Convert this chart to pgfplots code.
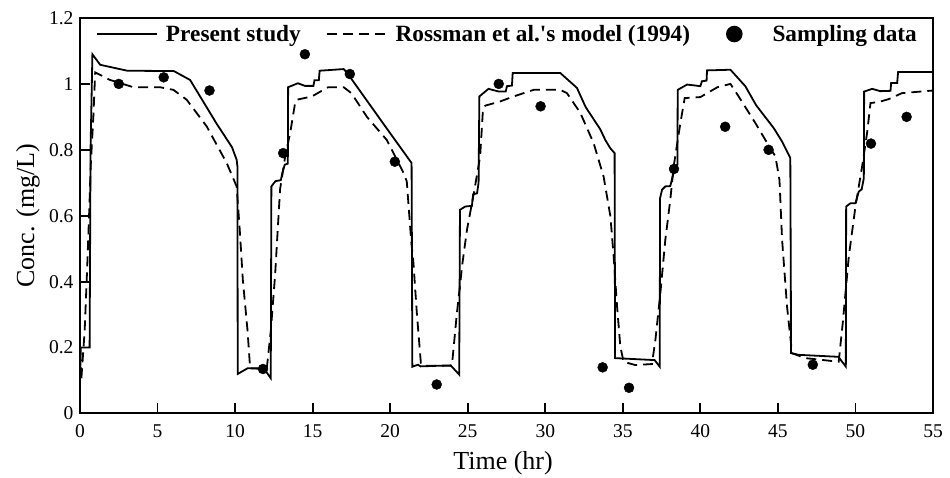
\documentclass[border=0pt]{standalone}
\usepackage{fontspec}
\setmainfont{Liberation Serif}
\usepackage{pgfplots}
\usepackage{pgfplotstable}
\pgfplotsset{compat=1.18}

% Present study (solid line)
\pgfplotstableread{
t c
0 0.10
0.05 0.20
0.62 0.20
0.68 0.80
0.80 1.09
1.3 1.058
3.05 1.040
6.05 1.039
7.1 1.012
8.8 0.880
9.8 0.808
10.1 0.77
10.15 0.75
10.17 0.12
10.8 0.137
11.85 0.137
12.3 0.107
12.34 0.689
12.6 0.705
12.95 0.708
13.05 0.73
13.2 0.755
13.4 0.758
13.42 0.99
14.05 1.002
14.5 0.994
15.05 0.994
15.12 1.011
15.4 1.011
15.45 1.040
17.0 1.045
17.2 1.035
19.7 0.870
21.38 0.76
21.43 0.142
21.8 0.148
21.95 0.143
23.9 0.146
24.45 0.118
24.5 0.618
24.84 0.628
25.27 0.630
25.35 0.665
25.6 0.668
25.7 0.70
25.75 0.962
26.34 0.985
26.99 0.977
27.45 0.977
27.53 0.993
27.85 0.995
27.9 1.033
30.97 1.033
32.04 0.988
32.6 0.930
33.55 0.862
33.87 0.83
34.19 0.805
34.47 0.79
34.5 0.168
37.05 0.162
37.38 0.142
37.4 0.653
37.53 0.679
37.74 0.689
38.06 0.690
38.21 0.719
38.39 0.75
38.52 0.755
38.54 0.982
39.14 0.998
39.7 0.995
40.0 0.993
40.1 1.008
40.4 1.010
40.43 1.041
41.94 1.043
42.9 0.993
43.6 0.935
44.73 0.866
45.27 0.825
45.8 0.775
45.85 0.183
46.34 0.178
48.9 0.172
49.38 0.142
49.4 0.628
49.68 0.638
50.0 0.638
50.21 0.673
50.4 0.68
50.54 0.714
50.56 0.977
51.08 0.985
51.6 0.978
52.26 0.979
52.3 1.003
52.69 1.003
52.75 1.036
55 1.036
}\presentdata

% Rossman et al. (1994) model (dashed line)
\pgfplotstableread{
t c
0 0.19
0.08 0.10
0.3 0.25
0.47 0.45
0.6 0.62
0.69 0.75
0.86 0.90
0.98 1.035
1.94 1.012
3.44 0.990
5.16 0.990
6.02 0.982
6.88 0.952
8.17 0.871
9.46 0.760
10.1 0.689
10.3 0.557
10.5 0.405
10.8 0.253
10.97 0.137
12.04 0.135
12.3 0.25
12.58 0.420
12.9 0.68
13.23 0.78
13.55 0.851
13.87 0.942
13.98 0.952
14.95 0.962
16.0 0.990
17.0 0.990
17.5 0.972
18.5 0.90
19.78 0.83
20.86 0.73
21.07 0.704
21.35 0.527
21.5 0.456
21.72 0.304
21.98 0.152
22.1 0.145
23.98 0.145
24.3 0.304
24.66 0.456
24.95 0.557
25.4 0.67
25.8 0.78
25.98 0.92
26.13 0.934
27.1 0.947
27.96 0.962
29.25 0.982
30.97 0.982
31.4 0.972
32.26 0.912
33.12 0.82
33.76 0.719
34.2 0.598
34.41 0.476
34.63 0.324
34.84 0.203
35.05 0.157
35.8 0.147
36.88 0.150
37.1 0.223
37.42 0.365
37.74 0.527
38.06 0.648
38.28 0.75
38.71 0.881
38.99 0.957
40.0 0.96
41.1 0.990
41.94 1.0
42.4 0.967
43.55 0.881
44.19 0.83
44.84 0.78
45.1 0.709
45.27 0.527
45.59 0.324
45.91 0.183
46.77 0.168
48.92 0.157
49.18 0.274
49.57 0.476
50.0 0.628
50.43 0.75
50.75 0.851
50.97 0.942
51.5 0.945
52.15 0.954
53.0 0.972
55 0.98
}\rossmandata

% Field sampling
\pgfplotstableread{
t c
2.5 1.00
5.4 1.02
8.35 0.98
11.8 0.135
13.1 0.79
14.5 1.09
17.4 1.03
20.3 0.764
23.0 0.088
27.0 1.00
29.7 0.932
33.7 0.140
35.4 0.078
38.3 0.742
41.6 0.870
44.4 0.800
47.25 0.148
51.0 0.819
53.3 0.900
}\samplingdata

\begin{document}
\begin{tikzpicture}
\useasboundingbox (-80pt,-64.5pt) rectangle (870pt,413.5pt);
\begin{axis}[
  scale only axis,
  width=853pt, height=395.5pt,
  xmin=0, xmax=55, ymin=0, ymax=1.2,
  xtick={0,5,...,55},
  ytick={0,0.2,0.4,0.6,0.8,1,1.2},
  tick pos=left,
  tick align=inside,
  major tick length=10pt,
  every tick/.style={black, line width=1.8pt},
  axis line style={line width=2pt},
  /pgf/number format/assume math mode=true,
  tick label style={font=\fontsize{19.5}{22}\selectfont},
  yticklabel style={xshift=-3pt},
  xticklabel style={yshift=-8pt},
  label style={font=\fontsize{26}{30}\selectfont},
  xlabel={Time (hr)},
  ylabel={Conc. (mg/L)},
  xlabel style={at={(axis description cs:0.496,0)}, anchor=base, yshift=-55.8pt},
  ylabel style={at={(axis description cs:-0.0539,0.5)}, anchor=base},
  legend columns=3,
  legend style={
    at={(axis description cs:0,1)}, anchor=north west,
    xshift=13pt, yshift=-3pt,
    draw=none, fill=none,
    font=\fontsize{23.3}{26}\selectfont\bfseries,
    /tikz/every odd column/.style={column sep=6pt},
    /tikz/column 2/.style={column sep=23pt},
    /tikz/column 4/.style={column sep=12pt},
  },
  legend image code/.code={\draw[#1] (0pt,0pt) -- (60pt,0pt);},
]
\addplot[black, line width=1.8pt, mark=none] table[x=t, y=c] {\presentdata};
\addlegendentry{Present study}
\addplot[black, line width=1.8pt, mark=none, dash pattern=on 10pt off 6pt] table[x=t, y=c] {\rossmandata};
\addlegendentry{Rossman et al.\textquotesingle s model (1994)}
\addplot[only marks, mark=*, mark size=5pt, black,
  legend image code/.code={\path (0pt,0pt) (60pt,0pt); \fill[black, draw=none] (30pt,0pt) circle (8.3pt);}]
  table[x=t, y=c] {\samplingdata};
\addlegendentry{Sampling data}
\end{axis}
\end{tikzpicture}
\end{document}
